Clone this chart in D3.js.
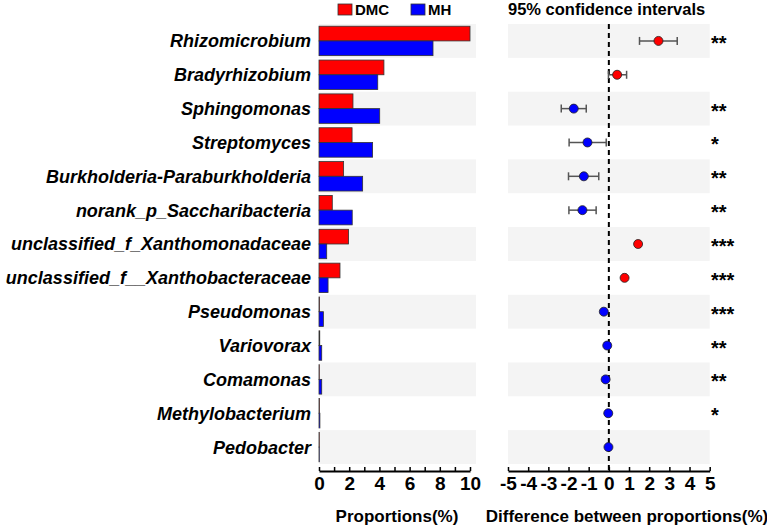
<!DOCTYPE html>
<html>
<head>
<meta charset="utf-8">
<script src="https://cdn.jsdelivr.net/npm/d3@7"></script>
<style>
  body { margin: 0; background: #fff; }
  svg { display: block; font-family: "Liberation Sans", Arial, sans-serif; }
</style>
</head>
<body>
<svg id="chart" width="767" height="528"></svg>
<script>
// ---------- data ----------
const categories = [
  "Rhizomicrobium", "Bradyrhizobium", "Sphingomonas", "Streptomyces",
  "Burkholderia-Paraburkholderia", "norank_p_Saccharibacteria",
  "unclassified_f_Xanthomonadaceae", "unclassified_f__Xanthobacteraceae",
  "Pseudomonas", "Variovorax", "Comamonas", "Methylobacterium", "Pedobacter"
];
const groups = ["DMC", "MH"];
const dmcValues = [10.0, 4.3, 2.25, 2.19, 1.63, 0.88, 1.96, 1.39, 0.03, 0.05, 0.02, 0.03, 0.02];
const mhValues  = [7.55, 3.89, 4.02, 3.55, 2.89, 2.2, 0.51, 0.6, 0.29, 0.18, 0.18, 0.06, 0.02];
const diffValues = [2.46, 0.41, -1.74, -1.06, -1.24, -1.31, 1.45, 0.78, -0.25, -0.08, -0.16, -0.03, -0.02];
const ciLower    = [1.52, -0.02, -2.36, -1.97, -2.0, -1.98, 1.37, 0.71, -0.31, -0.12, -0.2, -0.06, -0.05];
const ciUpper    = [3.39, 0.88, -1.12, -0.13, -0.5, -0.63, 1.53, 0.85, -0.19, -0.04, -0.12, 0.0, 0.01];
const significance = ["**", "", "**", "*", "**", "**", "***", "***", "***", "**", "**", "*", ""];
const propTicks = [0, 1, 2, 3, 4, 5, 6, 7, 8, 9, 10];
const diffTicks = [-5, -4, -3, -2, -1, 0, 1, 2, 3, 4, 5];
const groupColors = ["#ff0000", "#0000ff"];

// ---------- layout ----------
const svg = d3.select("#chart");
const plotTop = 24, plotBottom = 464, axisY = 471;
const FONT = "Liberation Sans, Arial, sans-serif";

const y = d3.scaleBand().domain(categories).range([plotTop, plotBottom]).padding(0);
const ySub = d3.scaleBand().domain(groups).range([0, y.bandwidth()]).paddingOuter(0.15).paddingInner(0);
const xProp = d3.scaleLinear().domain([0, 10]).range([319, 470]);
const xDiff = d3.scaleLinear().domain([-5, 5]).range([508, 709.7]);
const color = d3.scaleOrdinal().domain(groups).range(groupColors);

// background bands
const bandRows = categories.filter((d, i) => i % 2 === 0);
svg.append("g").selectAll("rect").data(bandRows).join("rect")
  .attr("x", 319).attr("width", 476 - 319)
  .attr("y", d => y(d)).attr("height", y.bandwidth())
  .attr("fill", "#f4f4f4");
svg.append("g").selectAll("rect").data(bandRows).join("rect")
  .attr("x", xDiff(-5)).attr("width", xDiff(5) - xDiff(-5))
  .attr("y", d => y(d)).attr("height", y.bandwidth())
  .attr("fill", "#f4f4f4");

// category labels
svg.append("g").selectAll("text").data(categories).join("text")
  .attr("x", 311).attr("y", d => y(d) + y.bandwidth() / 2)
  .attr("dy", "0.36em")
  .attr("text-anchor", "end")
  .attr("font-size", 18).attr("font-weight", "bold").attr("font-style", "italic")
  .attr("fill", "#000")
  .text(d => d);

// bars
const barData = [];
categories.forEach((c, i) => {
  barData.push({ cat: c, group: "DMC", value: dmcValues[i] });
  barData.push({ cat: c, group: "MH", value: mhValues[i] });
});
svg.append("g").selectAll("rect").data(barData).join("rect")
  .attr("x", xProp(0))
  .attr("y", d => y(d.cat) + ySub(d.group))
  .attr("width", d => xProp(d.value) - xProp(0))
  .attr("height", ySub.bandwidth())
  .attr("fill", d => color(d.group))
  .attr("stroke", "#333")
  .attr("stroke-width", 0.8);

// left axis
const axL = svg.append("g").attr("transform", `translate(0,${axisY})`)
  .call(d3.axisBottom(xProp).tickValues(propTicks)
    .tickFormat(d => d % 2 === 0 ? String(d) : "")
    .tickSizeInner(-4).tickSizeOuter(0).tickPadding(6));
axL.select(".domain").attr("stroke-width", 2);
axL.selectAll(".tick line").attr("stroke-width", 1.5);
axL.selectAll(".tick text").attr("font-size", 19).attr("font-weight", "bold")
  .attr("font-family", FONT).attr("fill", "#000");

// right axis
const axR = svg.append("g").attr("transform", `translate(0,${axisY})`)
  .call(d3.axisBottom(xDiff).tickValues(diffTicks)
    .tickFormat(d => String(d))
    .tickSizeInner(-4).tickSizeOuter(0).tickPadding(6));
axR.select(".domain").attr("stroke-width", 2);
axR.selectAll(".tick line").attr("stroke-width", 1.5);
axR.selectAll(".tick text").attr("font-size", 19).attr("font-weight", "bold")
  .attr("font-family", FONT).attr("fill", "#000");

// dashed zero line
svg.append("line")
  .attr("x1", xDiff(0)).attr("x2", xDiff(0))
  .attr("y1", plotTop).attr("y2", axisY)
  .attr("stroke", "#000").attr("stroke-width", 2)
  .attr("stroke-dasharray", "5,4");

// error bars
const ci = categories.map((c, i) => ({ cat: c, d: diffValues[i], lo: ciLower[i], hi: ciUpper[i], sig: significance[i] }));
const eg = svg.append("g").attr("stroke", "#555").attr("stroke-width", 1.5);
eg.selectAll("line.h").data(ci).join("line").attr("class", "h")
  .attr("x1", d => xDiff(d.lo)).attr("x2", d => xDiff(d.hi))
  .attr("y1", d => y(d.cat) + y.bandwidth() / 2).attr("y2", d => y(d.cat) + y.bandwidth() / 2);
eg.selectAll("line.l").data(ci).join("line").attr("class", "l")
  .attr("x1", d => xDiff(d.lo)).attr("x2", d => xDiff(d.lo))
  .attr("y1", d => y(d.cat) + y.bandwidth() / 2 - 4).attr("y2", d => y(d.cat) + y.bandwidth() / 2 + 4);
eg.selectAll("line.r").data(ci).join("line").attr("class", "r")
  .attr("x1", d => xDiff(d.hi)).attr("x2", d => xDiff(d.hi))
  .attr("y1", d => y(d.cat) + y.bandwidth() / 2 - 4).attr("y2", d => y(d.cat) + y.bandwidth() / 2 + 4);

// points
svg.append("g").selectAll("circle").data(ci).join("circle")
  .attr("cx", d => xDiff(d.d))
  .attr("cy", d => y(d.cat) + y.bandwidth() / 2)
  .attr("r", 4.5)
  .attr("fill", d => d.d > 0 ? groupColors[0] : groupColors[1])
  .attr("stroke", "#222").attr("stroke-width", 0.8);

// significance stars
svg.append("g").selectAll("text").data(ci).join("text")
  .attr("x", 711)
  .attr("y", d => y(d.cat) + y.bandwidth() / 2 + 9)
  .attr("font-size", 20).attr("font-weight", "bold")
  .attr("fill", "#000")
  .text(d => d.sig);

// legend
const lg = svg.append("g");
const legX = [338, 411];
groups.forEach((g, i) => {
  lg.append("rect").attr("x", legX[i]).attr("y", 4).attr("width", 14).attr("height", 11)
    .attr("fill", groupColors[i]).attr("stroke", "#333").attr("stroke-width", 0.8);
  lg.append("text").attr("x", legX[i] + 17).attr("y", 15)
    .attr("font-size", 15).attr("font-weight", "bold").attr("fill", "#000").text(g);
});

// titles
svg.append("text").attr("x", 508).attr("y", 14.5)
  .attr("font-size", 16.5).attr("font-weight", "bold").attr("fill", "#000")
  .text("95% confidence intervals");
svg.append("text").attr("x", 397).attr("y", 522).attr("text-anchor", "middle")
  .attr("font-size", 17).attr("font-weight", "bold").attr("fill", "#000")
  .text("Proportions(%)");
svg.append("text").attr("x", 627).attr("y", 522).attr("text-anchor", "middle")
  .attr("font-size", 17).attr("font-weight", "bold").attr("fill", "#000")
  .text("Difference between proportions(%)");
</script>
</body>
</html>
